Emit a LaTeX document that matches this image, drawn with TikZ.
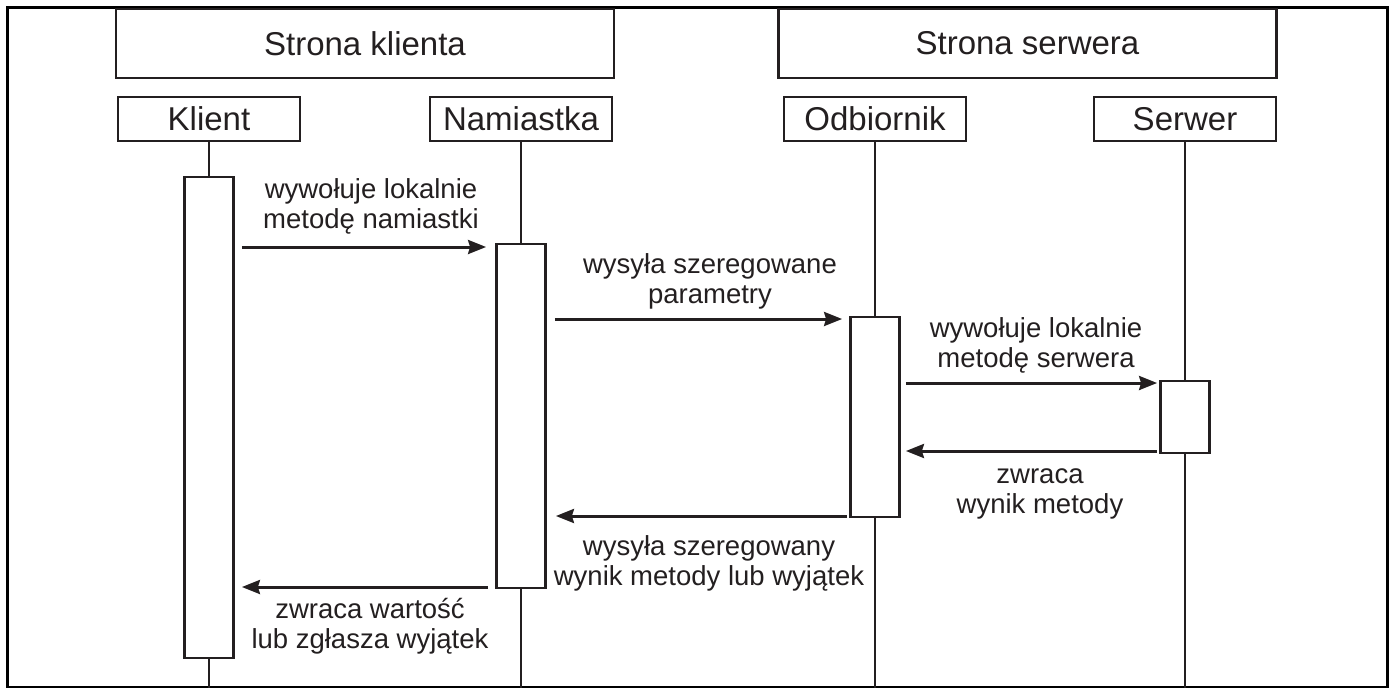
\documentclass[tikz,border=0pt]{standalone}
\usepackage{fontspec}
\setmainfont{Liberation Sans}
\usetikzlibrary{arrows.meta}
\definecolor{ink}{HTML}{231F20}
\begin{document}
\begin{tikzpicture}[x=1pt,y=-1pt,
  every node/.style={text=ink},
  grp/.style={draw=ink,line width=2.5pt,minimum width=498pt,minimum height=69pt,inner sep=0pt,font=\fontsize{33}{36}\selectfont},
  obj/.style={draw=ink,line width=2.5pt,minimum width=182pt,minimum height=44pt,inner sep=0pt,font=\fontsize{33}{36}\selectfont},
  life/.style={draw=ink,line width=2.5pt},
  act/.style={draw=ink,fill=white,line width=2.8pt,minimum width=49pt,inner sep=0pt},
  msg/.style={draw=ink,line width=3pt,-{Stealth[length=18pt,width=14pt,inset=2pt]}},
  lbl/.style={align=center,inner sep=0pt,font=\fontsize{27.5}{30}\selectfont}]
\useasboundingbox (0,0) rectangle (1395,688);
\draw[draw=black,line width=3pt] (7,7) rectangle (1387,687);

% group headers
\node[grp] (gk) at (365,43.5) {Strona klienta};
\node[grp] (gs) at (1027.5,43.5) {Strona serwera};

% object headers
\node[obj] (klient) at (209,119) {Klient};
\node[obj] (nam) at (521,119) {Namiastka};
\node[obj] (odb) at (875,119) {Odbiornik};
\node[obj] (serw) at (1185,119) {Serwer};

% lifelines
\coordinate (kend) at (209,688);
\coordinate (nend) at (521,688);
\coordinate (oend) at (875,688);
\coordinate (send) at (1185,688);
\draw[life] (klient.south) -- (kend);
\draw[life] (nam.south) -- (nend);
\draw[life] (odb.south) -- (oend);
\draw[life] (serw.south) -- (send);

% activation boxes
\node[act,minimum height=481pt] (kact) at (209,417.5) {};
\node[act,minimum height=344pt] (nact) at (521,416) {};
\node[act,minimum height=200pt] (oact) at (875,417) {};
\node[act,minimum height=72pt]  (sact) at (1185,417) {};

% messages
\draw[msg,shorten <=7pt,shorten >=9pt] (kact.east |- 0,247) -- (nact.west |- 0,247);
\draw[msg,shorten <=8pt,shorten >=7pt] (nact.east |- 0,319) -- (oact.west |- 0,319);
\draw[msg,shorten <=5pt,shorten >=2pt] (oact.east |- 0,383) -- (sact.west |- 0,383);
\draw[msg,shorten <=2pt,shorten >=5pt] (sact.west |- 0,451) -- (oact.east |- 0,451);
\draw[msg,shorten <=2pt,shorten >=9pt] (oact.west |- 0,516) -- (nact.east |- 0,516);
\draw[msg,shorten <=7pt,shorten >=7pt] (nact.west |- 0,587) -- (kact.east |- 0,587);

% labels
\node[lbl] (l1) at (371,206) {\vphantom{l}wywołuje lokalnie\\metodę namiastki\vphantom{y}};
\node[lbl] (l2) at (710,281) {\vphantom{l}wysyła szeregowane\\parametry\vphantom{y}};
\node[lbl] (l3) at (1036,345) {\vphantom{l}wywołuje lokalnie\\metodę serwera\vphantom{y}};
\node[lbl] (l4) at (1040,491) {\vphantom{l}zwraca\\wynik metody\vphantom{y}};
\node[lbl] (l5) at (709,563) {\vphantom{l}wysyła szeregowany\\wynik metody lub wyjątek\vphantom{y}};
\node[lbl] (l6) at (370,626) {\vphantom{l}zwraca wartość\\lub zgłasza wyjątek\vphantom{y}};
\end{tikzpicture}
\end{document}
